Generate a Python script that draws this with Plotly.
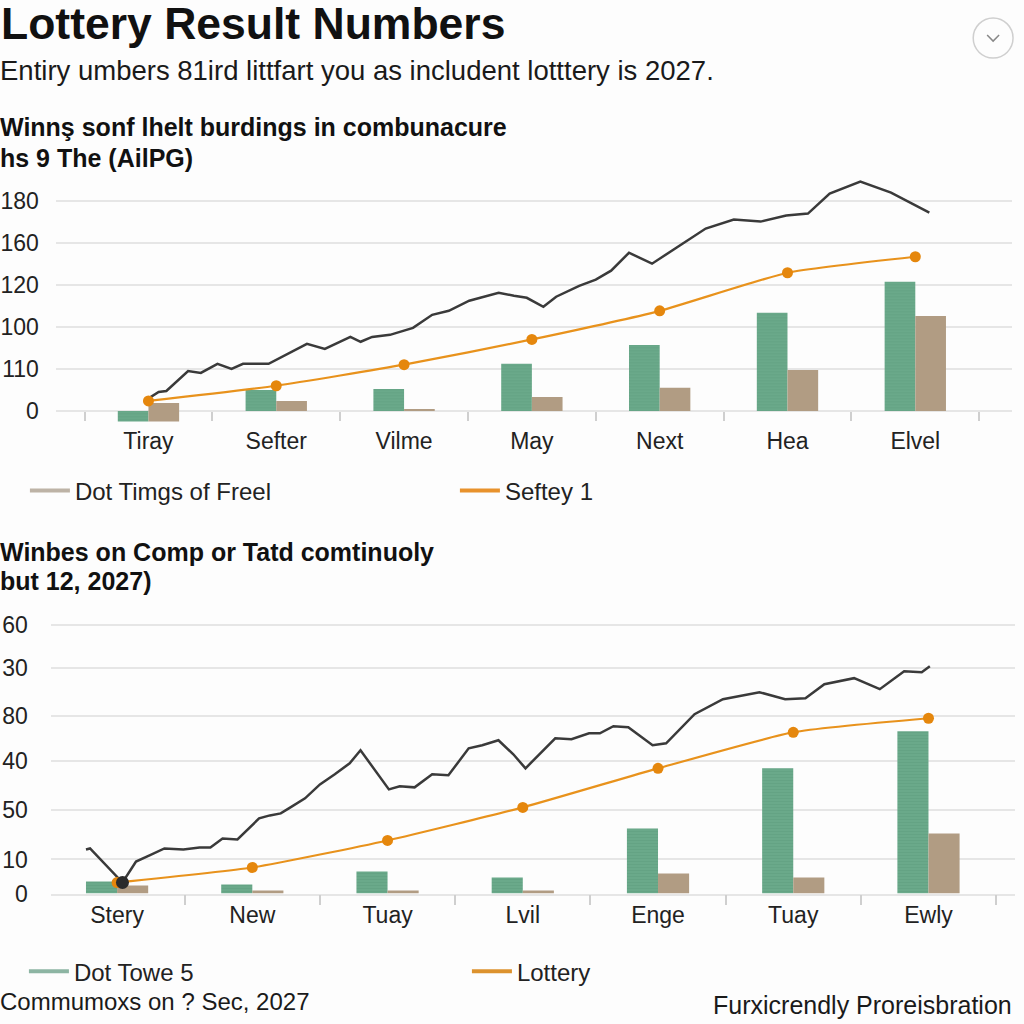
import plotly.graph_objects as go

# ---------------- data: chart 1 ----------------
cats1 = ["Tiray", "Sefter", "Vilme", "May", "Next", "Hea", "Elvel"]
green1 = [-5, 10, 10.5, 22.4, 31.4, 46.7, 61.4]
tan1 = [8.8, 4.8, 1, 6.7, 11, 19.5, 45.2]
tan1_base = [-5, 0, 0, 0, 0, 0, 0]
orange1 = [4.8, 12, 22, 34, 47.6, 65.7, 73.3]
black1_x = [-0.03, 0.08, 0.14, 0.31, 0.41, 0.54, 0.65, 0.74, 0.94, 1.11, 1.24, 1.38, 1.58, 1.66,
            1.75, 1.89, 2.07, 2.22, 2.35, 2.51, 2.63, 2.74, 2.86, 2.96, 3.09, 3.19, 3.37, 3.50,
            3.62, 3.76, 3.94, 4.13, 4.36, 4.58, 4.79, 4.99, 5.16, 5.33, 5.57, 5.81, 6.11]
black1_y = [4.8, 9.0, 9.5, 19.0, 18.1, 22.4, 20.0, 22.4, 22.4, 27.6, 31.9, 29.5, 35.2, 32.9,
            35.2, 36.2, 39.5, 45.7, 47.6, 52.4, 54.3, 56.2, 54.8, 53.8, 49.5, 54.3, 59.5, 62.4,
            66.7, 75.2, 70.0, 77.6, 86.7, 91.0, 90.0, 92.9, 93.8, 103.3, 109.0, 103.8, 94.3]
ytickvals1 = [0, 20, 40, 60, 80, 100]
yticktext1 = ["0", "110", "100", "120", "160", "180"]

# ---------------- data: chart 2 ----------------
cats2 = ["Stery", "New", "Tuay", "Lvil", "Enge", "Tuay", "Ewly"]
green2 = [6, 4.5, 11, 8, 32.5, 62.5, 81]
tan2 = [4, 1.5, 1.5, 1.5, 10, 8, 30]
orange2 = [5.5, 13, 26.5, 43, 62.5, 80.5, 87.5]
black2_x = [-0.23, -0.20, 0.04, 0.14, 0.24, 0.35, 0.49, 0.61, 0.69, 0.78, 0.89, 1.05, 1.13, 1.21,
            1.27, 1.39, 1.50, 1.61, 1.72, 1.80, 2.01, 2.09, 2.20, 2.33, 2.45, 2.60, 2.70, 2.82,
            2.93, 3.02, 3.24, 3.36, 3.49, 3.57, 3.67, 3.78, 3.96, 4.06, 4.27, 4.48, 4.75, 4.94,
            5.09, 5.23, 5.45, 5.64, 5.82, 5.95, 6.01]
black2_y = [22, 22.5, 5.5, 16, 19, 22.5, 22, 23, 23, 27.5, 27, 37.5, 39, 40,
            42.5, 47.5, 54.5, 59.5, 65, 71.5, 52, 53.5, 53, 59.5, 59, 72.5, 74, 76.5,
            69.5, 62.5, 77.5, 77, 80, 80, 83.5, 83, 74, 75, 89.5, 97, 100.5, 97,
            97.5, 104.5, 107.5, 102, 111, 110.5, 113.5]
ytickvals2 = [0, 17, 41.5, 66, 88.5, 112.5, 134]
yticktext2 = ["0", "10", "50", "40", "80", "30", "60"]

# ---------------- text ----------------
title = "Lottery Result Numbers"
subtitle = "Entiry umbers 81ird littfart you as includent lotttery is 2027."
sec1 = ["Winnş sonf lhelt burdings in combunacure", "hs 9 The (AilPG)"]
sec2 = ["Winbes on Comp or Tatd comtinuoly", "but 12, 2027)"]
legend1_names = ["Dot Timgs of Freel", "Seftey 1"]
legend2_names = ["Dot Towe 5", "Lottery"]
footer_left = "Commumoxs on ? Sec, 2027"
footer_right = "Furxicrendly Proreisbration"

# ---------------- style ----------------
FONT = "Liberation Sans, Arial, Helvetica, sans-serif"
GREEN = "#6aa98a"
GREEN_D = "#5b9a7b"
TAN = "#b19c83"
ORANGE = "#e8921c"
BLACK = "#3a3a3a"
GRID = "#e6e6e6"

VS = 0.9856  # vertical compensation for the page capture

def px(y):
    return 1 - y / (1024.0 * VS)

pos1 = list(range(len(cats1)))
pos2 = list(range(len(cats2)))

fig = go.Figure()

# chart 1
fig.add_trace(go.Bar(x=pos1, y=green1, width=0.24, offset=-0.24, marker=dict(color=GREEN, line_width=0,
                     pattern=dict(shape="-", fgcolor=GREEN_D, bgcolor=GREEN, size=3, solidity=0.25)),
                     showlegend=False, xaxis="x", yaxis="y"))
fig.add_trace(go.Bar(x=pos1, y=tan1, base=tan1_base, width=0.24, offset=0, marker=dict(color=TAN, line_width=0),
                     showlegend=False, xaxis="x", yaxis="y"))
fig.add_trace(go.Scatter(x=black1_x, y=black1_y, mode="lines", line=dict(color=BLACK, width=2.5),
                         showlegend=False, xaxis="x", yaxis="y"))
fig.add_trace(go.Scatter(x=pos1, y=orange1, mode="lines+markers", line=dict(color=ORANGE, width=2.2, shape="spline", smoothing=0.5),
                         marker=dict(color="#e5870d", size=11), showlegend=False, xaxis="x", yaxis="y"))
fig.add_trace(go.Scatter(x=[None], y=[None], mode="lines", line=dict(color="#bdb3a6", width=4),
                         name=legend1_names[0], legend="legend", xaxis="x", yaxis="y"))
fig.add_trace(go.Scatter(x=[None], y=[None], mode="lines", line=dict(color="#e8922c", width=4),
                         name=legend1_names[1], legend="legend", xaxis="x", yaxis="y"))

# chart 2
fig.add_trace(go.Bar(x=pos2, y=green2, width=0.23, offset=-0.23, marker=dict(color=GREEN, line_width=0,
                     pattern=dict(shape="-", fgcolor=GREEN_D, bgcolor=GREEN, size=3, solidity=0.25)),
                     showlegend=False, xaxis="x2", yaxis="y2"))
fig.add_trace(go.Bar(x=pos2, y=tan2, width=0.23, offset=0, marker=dict(color=TAN, line_width=0),
                     showlegend=False, xaxis="x2", yaxis="y2"))
fig.add_trace(go.Scatter(x=black2_x, y=black2_y, mode="lines", line=dict(color=BLACK, width=2.5),
                         showlegend=False, xaxis="x2", yaxis="y2"))
fig.add_trace(go.Scatter(x=pos2, y=orange2, mode="lines+markers", line=dict(color=ORANGE, width=2.2, shape="spline", smoothing=0.5),
                         marker=dict(color="#e5870d", size=11), showlegend=False, xaxis="x2", yaxis="y2"))
fig.add_trace(go.Scatter(x=[black2_x[2]], y=[black2_y[2]], mode="markers", marker=dict(color="#2b2b2b", size=13),
                         showlegend=False, xaxis="x2", yaxis="y2"))
fig.add_trace(go.Scatter(x=[None], y=[None], mode="lines", line=dict(color="#8db5a3", width=4),
                         name=legend2_names[0], legend="legend2", xaxis="x2", yaxis="y2"))
fig.add_trace(go.Scatter(x=[None], y=[None], mode="lines", line=dict(color="#dc922e", width=4),
                         name=legend2_names[1], legend="legend2", xaxis="x2", yaxis="y2"))

tickfont = dict(family=FONT, size=23, color="#222222")

y1_range = [-7, 112]
y1_dom = [px(425), px(175)]
x1_pos = y1_dom[0] + (0 - y1_range[0]) / (y1_range[1] - y1_range[0]) * (y1_dom[1] - y1_dom[0])

fig.update_layout(
    width=1024, height=1024,
    margin=dict(l=0, r=0, t=0, b=0),
    paper_bgcolor="#fdfdfd", plot_bgcolor="#fdfdfd",
    font=dict(family=FONT, color="#222222"),
    xaxis=dict(domain=[52 / 1024, 1012 / 1024], range=[-0.725, 6.757], anchor="free", position=x1_pos,
               tickmode="array", tickvals=pos1, ticktext=cats1, ticks="", showgrid=False, zeroline=False,
               showline=False, tickfont=tickfont, ticklabelstandoff=14,
               minor=dict(tickmode="array", tickvals=[i - 0.5 for i in range(len(cats1) + 1)],
                          ticks="outside", ticklen=9, tickcolor="#cfcfcf", tickwidth=1.5, showgrid=False)),
    yaxis=dict(domain=y1_dom, range=y1_range, tickmode="array", tickvals=ytickvals1, ticktext=yticktext1,
               showgrid=True, gridcolor=GRID, gridwidth=1.5, zeroline=False, showline=False,
               tickfont=tickfont, ticklabelstandoff=16),
    xaxis2=dict(domain=[47 / 1024, 1015 / 1024], range=[-0.49, 6.64], anchor="y2",
                tickmode="array", tickvals=pos2, ticktext=cats2, ticks="", showgrid=False, zeroline=False,
                showline=True, linecolor=GRID, linewidth=1.5, tickfont=tickfont, ticklabelstandoff=0,
                minor=dict(tickmode="array", tickvals=[i - 0.5 for i in range(len(cats2) + 1)],
                           ticks="outside", ticklen=10, tickcolor="#cfcfcf", tickwidth=1.5, showgrid=False)),
    yaxis2=dict(domain=[px(892), px(610)], range=[0, 141], anchor="x2", tickmode="array",
                tickvals=ytickvals2, ticktext=yticktext2, showgrid=True, gridcolor=GRID, gridwidth=1.5,
                zeroline=False, showline=False, tickfont=tickfont, ticklabelstandoff=22),
    legend=dict(orientation="h", x=21 / 1024, xanchor="left", y=px(490), yanchor="middle",
                font=dict(family=FONT, size=24, color="#222222"), bgcolor="rgba(0,0,0,0)",
                entrywidth=375, entrywidthmode="pixels", itemwidth=40),
    legend2=dict(orientation="h", x=20 / 1024, xanchor="left", y=px(970), yanchor="middle",
                 font=dict(family=FONT, size=24, color="#222222"), bgcolor="rgba(0,0,0,0)",
                 entrywidth=388, entrywidthmode="pixels", itemwidth=40),
    showlegend=True,
)

ann = []
def add_text(text, x, y, size, bold=False, xanchor="left", color="#111111", xshift=0):
    ann.append(dict(text=f"<b>{text}</b>" if bold else text, x=x, y=px(y), xref="paper", yref="paper",
                    xanchor=xanchor, yanchor="middle", showarrow=False, borderpad=0, xshift=xshift,
                    font=dict(family=FONT, size=size, color=color)))

add_text(title, 0, 23, 44.5, bold=True, xshift=-4)
add_text(subtitle, 0, 70, 27.5, color="#1a1a1a", xshift=-5)
add_text(sec1[0], 0, 127, 25, bold=True, xshift=-5)
add_text(sec1[1], 0, 158, 25, bold=True, xshift=-5)
add_text(sec2[0], 0, 551, 25, bold=True, xshift=-5)
add_text(sec2[1], 0, 580, 25, bold=True, xshift=-5)
add_text(footer_left, 0, 1000, 24, color="#1a1a1a", xshift=-5)
add_text(footer_right, 1010 / 1024, 1003, 25, xanchor="right", color="#1a1a1a", xshift=3)
fig.update_layout(annotations=ann)

# icon at top right
fig.add_shape(type="circle", xref="paper", yref="paper", x0=973 / 1024, x1=1013 / 1024, y0=px(58), y1=px(18),
              line=dict(color="#cfcfcf", width=1.5))
fig.add_shape(type="path", xref="paper", yref="paper",
              path=f"M {987/1024} {px(35)} L {993/1024} {px(41)} L {999/1024} {px(35)}",
              line=dict(color="#888888", width=1.5))

fig.write_html("out.html")
